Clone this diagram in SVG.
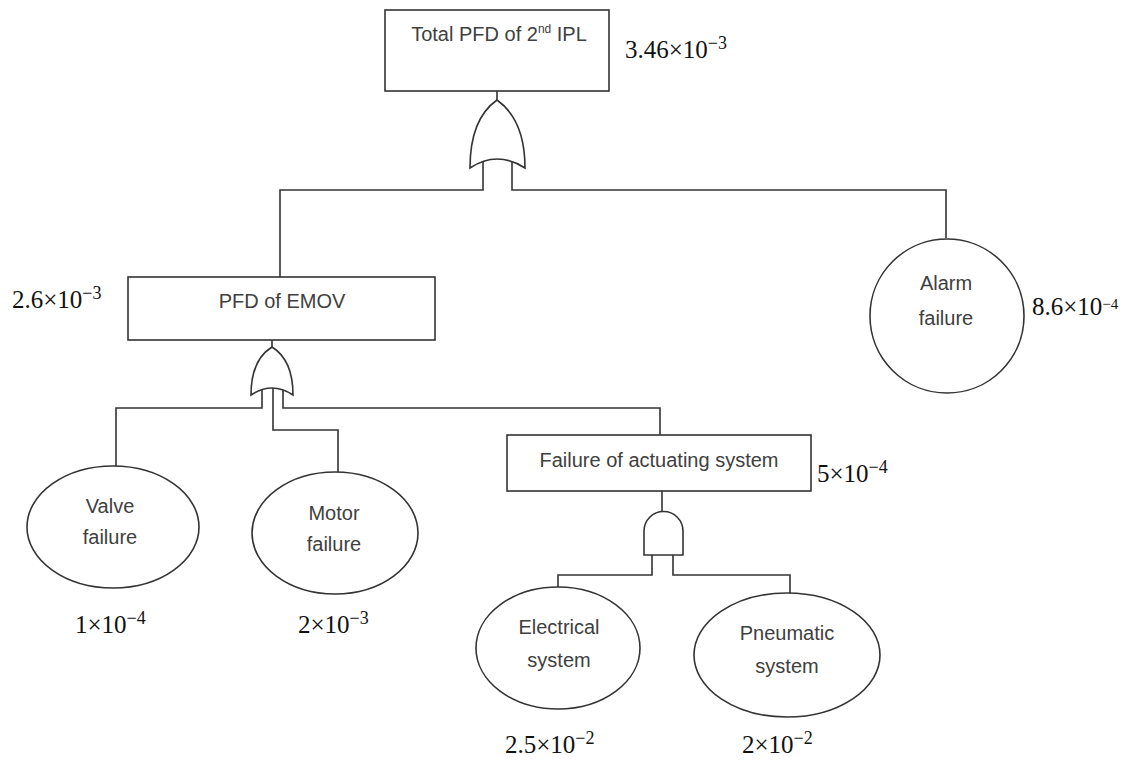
<svg xmlns="http://www.w3.org/2000/svg" width="1136" height="763" viewBox="0 0 1136 763">
<style>
.n{fill:#fff;stroke:#333;stroke-width:1.6}
.c{fill:none;stroke:#333;stroke-width:1.6}
.g{fill:#fff;stroke:#333;stroke-width:1.6}
.t{font-family:"Liberation Sans",Arial,sans-serif;font-size:20px;fill:#404040;text-anchor:middle}
.v{font-family:"Liberation Serif","Times New Roman",serif;font-size:25px;fill:#111}
.s{font-size:18px}
</style>
<rect width="1136" height="763" fill="#fff"/>
<g id="connectors">
<path class="c" d="M497,91 V100"/>
<path class="c" d="M483,161 V190 H280 V277"/>
<path class="c" d="M512,161 V190 H946 V238"/>
<path class="c" d="M272,340 V347"/>
<path class="c" d="M262,390 V408 H116 V467"/>
<path class="c" d="M273,388 V430 H338 V473"/>
<path class="c" d="M283,390 V408 H660 V435"/>
<path class="c" d="M662,491 V512"/>
<path class="c" d="M652,555 V575 H558 V587"/>
<path class="c" d="M673,555 V575 H790 V593"/>
</g>
<g id="gates">
<path id="or1" class="g" d="M497,100 C480,112 470,132 470,168 Q497,150 525,168 C525,132 514,112 497,100 Z"/>
<path id="or2" class="g" d="M272,347 C259,355 251,370 251,395 Q272,381 293,395 C293,370 285,355 272,347 Z"/>
<path id="and1" class="g" d="M644,555 V531 A19.5,19.5 0 0 1 683,531 V555 Z"/>
</g>
<g id="top">
<rect class="n" x="385" y="10" width="224" height="81"/>
<text class="t" x="499" y="41">Total PFD of 2<tspan font-size="12" dy="-8">nd</tspan><tspan dy="8"> IPL</tspan></text>
<text class="v" x="625" y="58">3.46×10<tspan class="s" dy="-9">−3</tspan></text>
</g>
<g id="emov">
<rect class="n" x="128" y="277" width="307" height="63"/>
<text class="t" x="282" y="308">PFD of EMOV</text>
<text class="v" x="12" y="308">2.6×10<tspan class="s" dy="-9">−3</tspan></text>
</g>
<g id="alarm">
<circle class="n" cx="947" cy="316" r="77"/>
<text class="t" x="946" y="290">Alarm</text>
<text class="t" x="946" y="325">failure</text>
<text class="v" x="1032" y="315">8.6×10<tspan font-size="15" dy="-6">−4</tspan></text>
</g>
<g id="actuating">
<rect class="n" x="507" y="435" width="304" height="56"/>
<text class="t" x="659" y="467">Failure of actuating system</text>
<text class="v" x="817" y="482">5×10<tspan class="s" dy="-9">−4</tspan></text>
</g>
<g id="valve">
<ellipse class="n" cx="113" cy="527" rx="86" ry="61"/>
<text class="t" x="110" y="513">Valve</text>
<text class="t" x="110" y="544">failure</text>
<text class="v" x="75" y="633">1×10<tspan class="s" dy="-9">−4</tspan></text>
</g>
<g id="motor">
<ellipse class="n" cx="335" cy="533" rx="83" ry="61"/>
<text class="t" x="334" y="520">Motor</text>
<text class="t" x="334" y="551">failure</text>
<text class="v" x="298" y="633">2×10<tspan class="s" dy="-9">−3</tspan></text>
</g>
<g id="electrical">
<ellipse class="n" cx="558" cy="648" rx="82" ry="61"/>
<text class="t" x="559" y="634">Electrical</text>
<text class="t" x="559" y="667">system</text>
<text class="v" x="505" y="753">2.5×10<tspan class="s" dy="-9">−2</tspan></text>
</g>
<g id="pneumatic">
<ellipse class="n" cx="787" cy="655" rx="93" ry="62"/>
<text class="t" x="787" y="640">Pneumatic</text>
<text class="t" x="787" y="673">system</text>
<text class="v" x="742" y="753">2×10<tspan class="s" dy="-9">−2</tspan></text>
</g>
</svg>
